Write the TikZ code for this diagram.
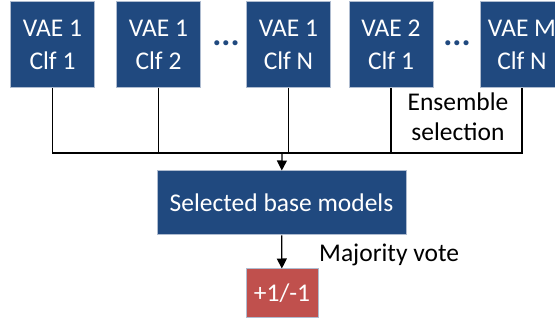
\documentclass[tikz,border=0pt]{standalone}
\usepackage{fontspec}
\setmainfont{Carlito}
\usetikzlibrary{arrows.meta}
\definecolor{boxblue}{RGB}{32,73,127}
\definecolor{boxred}{RGB}{192,80,77}
\definecolor{boxedge}{RGB}{175,188,208}
\begin{document}
\begin{tikzpicture}[x=1pt,y=-1pt,
    txt/.style={font=\fontsize{25.5}{30}\selectfont, align=center, inner sep=0pt},
    conn/.style={line width=1.3pt, black},
    arr/.style={conn, -{Triangle[length=10pt,width=10pt]}}]

        \useasboundingbox (0,0) rectangle (555,320);

        \begin{scope}[every node/.style={txt, fill=boxblue, draw=boxedge, line width=1pt, text=white,
            minimum width=84pt, minimum height=86pt, font=\fontsize{25.5}{33}\selectfont}]
          \node (m1) at (52.5,45)  {VAE 1\\Clf 1};
          \node (m2) at (158.5,45) {VAE 1\\Clf 2};
          \node (m3) at (288.5,45) {VAE 1\\Clf N};
          \node (m4) at (391,45)   {VAE 2\\Clf 1};
          \node (m5) at (522,45)   {VAE M\\Clf N};
          \node (sel) at (281.5,203) [minimum width=249pt, minimum height=64pt] {Selected base models};
          \node (out) at (282,293.5) [fill=boxred, minimum width=72pt, minimum height=49pt] {+1/-1};
        \end{scope}

        \begin{scope}[every node/.style={txt, text=boxblue, font=\fontsize{34}{34}\bfseries\selectfont}]
          \node (d1) at (226,43) {...};
          \node (d2) at (457,43) {...};
        \end{scope}

        \node[txt] (ens) at (458,117) {Ensemble\\selection};
        \node[txt, anchor=west] (vote) at (319,255) {Majority vote};

        \coordinate (bus) at (282,153);
        \draw[conn] (m1.south) |- (m5.south |- bus) -- (m5.south);
        \draw[conn] (m2.south) -- (m2.south |- bus);
        \draw[conn] (m3.south) -- (m3.south |- bus);
        \draw[conn] (m4.south) -- (m4.south |- bus);
        \draw[arr] (bus) -- (sel);
        \draw[arr] (sel) -- (out);

      \end{tikzpicture}
\end{document}
